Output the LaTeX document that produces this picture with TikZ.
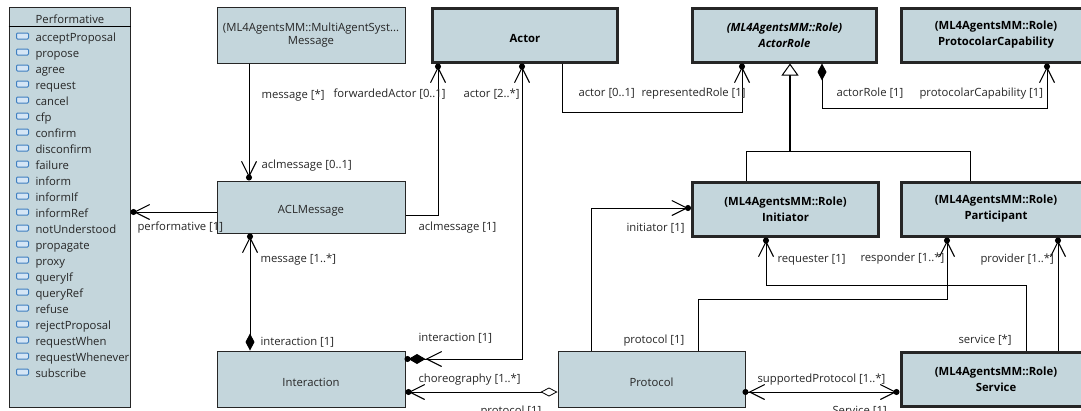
\documentclass[tikz,border=0pt]{standalone}
\usepackage{fontspec}
\setmainfont{Open Sans}
\usetikzlibrary{arrows.meta}
\definecolor{boxfill}{HTML}{C4D6DC}
\definecolor{litblue}{HTML}{3F7FC0}
\definecolor{litfill}{HTML}{D5E5F5}

\begin{document}
\begin{tikzpicture}[x=1pt,y=-1pt,line width=1pt,font=\fontsize{11.3}{13.5}\selectfont,
      navbarb/.tip={Straight Barb[length=15pt,width=15pt,line width=1.1pt]},
      navdot/.tip={Circle[length=6pt,width=6pt]},
      endnav/.style={-{navbarb[sep=-3pt]navdot}},
      bothnav/.style={{navdot[sep=-3pt]navbarb}-{navbarb[sep=-3pt]navdot}},
      solidnav/.style={{Diamond[length=17pt,width=9pt]}-{navbarb[sep=-3pt]navdot}},
      hollownav/.style={{Diamond[open,fill=white,length=17pt,width=9pt,line width=.8pt]}-{navbarb[sep=-3pt]navdot}},
      doublenav/.style={{navdot[sep=-1pt]Diamond[length=17pt,width=10pt,sep=-2pt]navbarb}-{navbarb[sep=-3pt]navdot}},
      inherit/.style={-{Triangle[open,fill=white,length=12pt,width=17pt,line width=1pt]}}]
      % Box styles
      \tikzstyle{boxnode} = [draw=black!85, fill=boxfill, rectangle, text centered, align=center, inner sep=0pt, text=black!85, execute at begin node={\rule{0pt}{16pt}}]
      \tikzstyle{rolenode} = [boxnode, line width=3pt, text=black, font=\fontsize{11.3}{16}\selectfont\bfseries]
      \tikzstyle{lab} = [anchor=mid west, inner sep=0pt, yshift=-2pt, text=black!85]
      \tikzstyle{litnode} = [anchor=mid west, inner sep=0pt, yshift=-2pt, text=black!85]
      \tikzstyle{iconnode} = [draw=litblue, fill=litfill, rounded corners=1pt, line width=1pt, minimum width=12pt, minimum height=6pt, inner sep=0pt]

      \useasboundingbox (0,0) rectangle (1081,410);

      % Enumeration on the left
      \node (Performative) [boxnode, minimum width=121pt, minimum height=400pt] at (69.5,207) {};
      \node (PerformativeName) [inner sep=0pt, text=black!85] at (70,19) {Performative};
      \draw (Performative.west |- 0,26) -- (Performative.east |- 0,26);
      \foreach \lit [count=\i] in {acceptProposal,propose,agree,request,cancel,cfp,confirm,disconfirm,failure,inform,informIf,informRef,notUnderstood,propagate,proxy,queryIf,queryRef,refuse,rejectProposal,requestWhen,requestWhenever,subscribe} {
        \node (icon\i) [iconnode] at (22.5,20+16*\i) {};
        \node (lit\i) [litnode] at (35,21+16*\i) {\lit};
      }

      % Define the nodes
      \node (Message) [boxnode, minimum width=188pt, minimum height=56pt] at (311,35) {(ML4AgentsMM::MultiAgentSyst...\\Message};
      \node (ACLMessage) [boxnode, minimum width=188pt, minimum height=52pt] at (311,207) {ACLMessage};
      \node (Interaction) [boxnode, minimum width=188pt, minimum height=56pt] at (311,379) {Interaction};
      \node (Protocol) [boxnode, minimum width=187pt, minimum height=56pt] at (651.5,379) {Protocol};
      \node (Actor) [rolenode, minimum width=185pt, minimum height=54pt] at (525,35) {Actor};
      \node (ActorRole) [rolenode, minimum width=184pt, minimum height=54pt, font=\fontsize{11.3}{16}\selectfont\bfseries\itshape] at (784.5,35) {(ML4AgentsMM::Role)\\ActorRole};
      \node (Capability) [rolenode, minimum width=190pt, minimum height=54pt] at (996,35) {(ML4AgentsMM::Role)\\ProtocolarCapability};
      \node (Initiator) [rolenode, minimum width=186pt, minimum height=54pt] at (785.5,209) {(ML4AgentsMM::Role)\\Initiator};
      \node (Participant) [rolenode, minimum width=190pt, minimum height=54pt] at (996,209) {(ML4AgentsMM::Role)\\Participant};
      \node (Service) [rolenode, minimum width=190pt, minimum height=54pt] at (996,379.5) {(ML4AgentsMM::Role)\\Service};

      % Draw the arrows
      \draw [endnav] (Message.south -| 249,0) -- (ACLMessage.north -| 249,0);
      \draw [endnav] (ACLMessage.west |- 0,212) -- (Performative.east |- 0,212);
      \draw [endnav] (ACLMessage.east |- 0,215) -| (Actor.south -| 438,0);
      \draw [solidnav] (Interaction.north -| 250,0) -- (ACLMessage.south -| 250,0);
      \draw [doublenav] (Interaction.east |- 0,359) -| (Actor.south -| 522,0);
      \draw [hollownav] (Protocol.west |- 0,392) -- (Interaction.east |- 0,392);
      \draw [endnav] (Actor.south -| 562,0) |- (742,112) -- (ActorRole.south -| 742,0);
      \draw [solidnav] (ActorRole.south -| 822,0) |- (1047,108) -- (Capability.south -| 1047,0);
      \draw [inherit, line width=1.4pt] (790,151) -- (ActorRole.south -| 790,0);
      \draw (Initiator.north -| 746,0) |- (970,151) -- (Participant.north -| 970,0);
      \draw [endnav] (Protocol.north -| 591,0) |- (Initiator.west |- 0,208);
      \draw [endnav] (Protocol.north -| 698,0) |- (947,299) -- (Participant.south -| 947,0);
      \draw [endnav] (Service.north -| 1026,0) |- (766,285) -- (Initiator.south -| 766,0);
      \draw [endnav] (Service.north -| 1058,0) -- (Participant.south -| 1058,0);
      \draw [bothnav] (Protocol.east |- 0,392) -- (Service.west |- 0,392);

      % Role names
      \node (l1) [lab] at (261,94) {message [*]};
      \node (l2) [lab] at (261,164) {aclmessage [0..1]};
      \node (l3) [lab] at (333,93) {forwardedActor [0..1]};
      \node (l4) [lab] at (463,93) {actor [2..*]};
      \node (l5) [lab] at (578,92) {actor [0..1]};
      \node (l6) [lab] at (641,92) {representedRole [1]};
      \node (l7) [lab] at (836,92) {actorRole [1]};
      \node (l8) [lab] at (919,92) {protocolarCapability [1]};
      \node (l9) [lab] at (137,226) {performative [1]};
      \node (l10) [lab] at (418,226) {aclmessage [1]};
      \node (l11) [lab] at (260,258) {message [1..*]};
      \node (l12) [lab] at (260,341) {interaction [1]};
      \node (l13) [lab] at (418,337) {interaction [1]};
      \node (l14) [lab] at (418,378) {choreography [1..*]};
      \node (l15) [lab] at (480,410) {protocol [1]};
      \node (l16) [lab] at (832,410) {Service [1]};
      \node (l17) [lab] at (626,227) {initiator [1]};
      \node (l18) [lab] at (623,339) {protocol [1]};
      \node (l19) [lab] at (777,258) {requester [1]};
      \node (l20) [lab] at (860,257) {responder [1..*]};
      \node (l21) [lab] at (980,258) {provider [1..*]};
      \node (l22) [lab] at (958,339) {service [*]};
      \node (l23) [lab] at (757,378) {supportedProtocol [1..*]};
\end{tikzpicture}
\end{document}
